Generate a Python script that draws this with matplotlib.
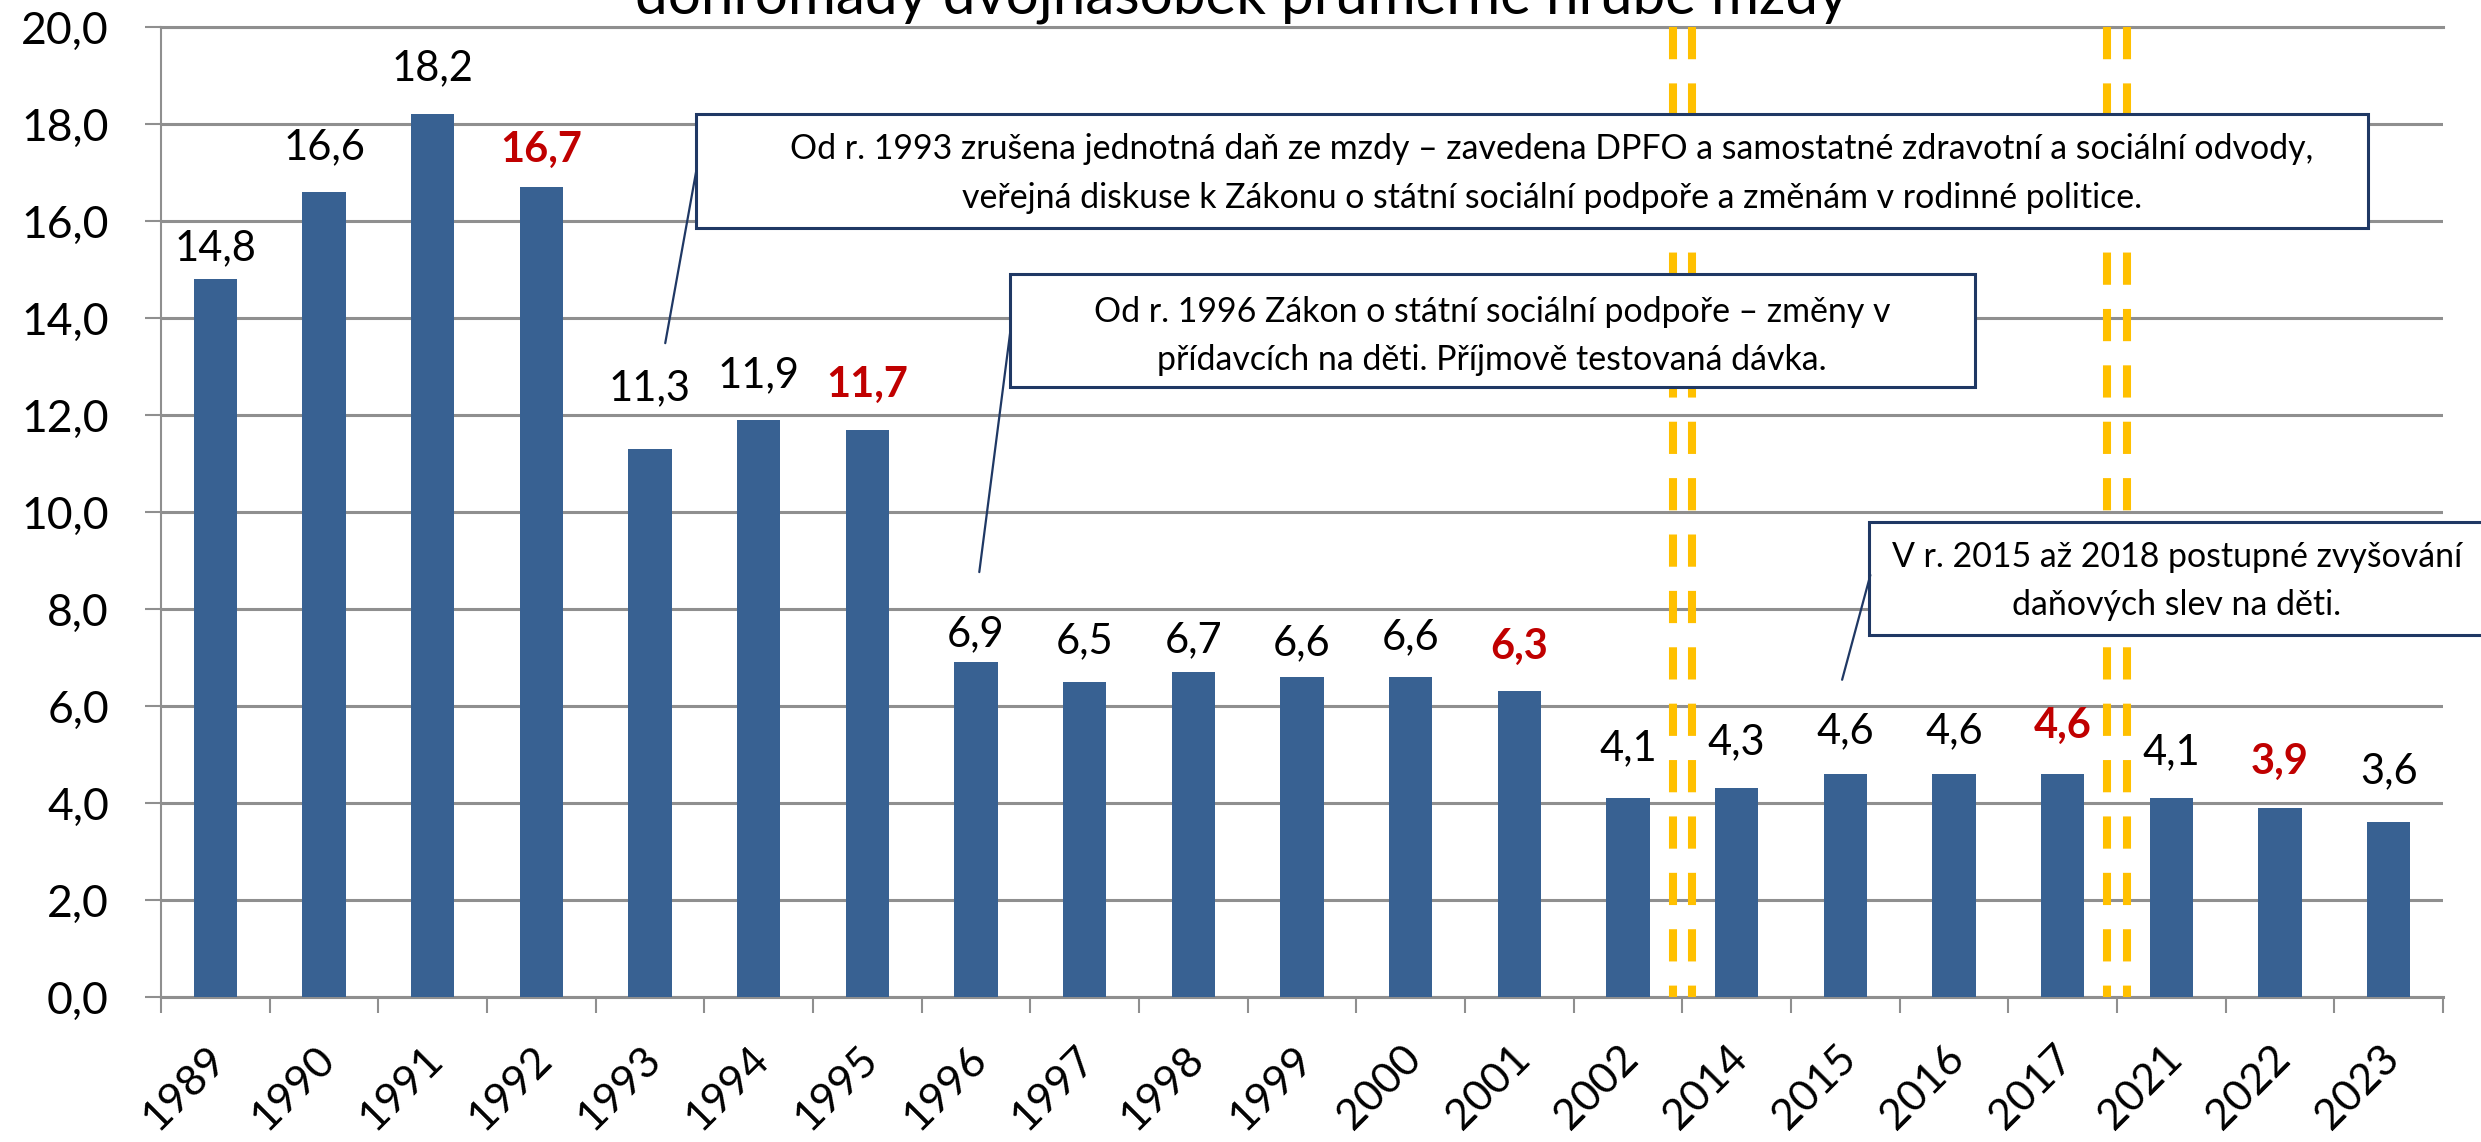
# Tax burden chart - bars with notes and axis breaks

import numpy as np
import matplotlib.pyplot as plt
from matplotlib.patches import Rectangle
from matplotlib.transforms import ScaledTranslation

plt.rcParams['font.family'] = ['Lato', 'DejaVu Sans']

# Data
years = ['1989', '1990', '1991', '1992', '1993', '1994', '1995', '1996', '1997',
         '1998', '1999', '2000', '2001', '2002', '2014', '2015', '2016', '2017',
         '2021', '2022', '2023']
values = [14.8, 16.6, 18.2, 16.7, 11.3, 11.9, 11.7, 6.9, 6.5, 6.7, 6.6, 6.6, 6.3,
          4.1, 4.3, 4.6, 4.6, 4.6, 4.1, 3.9, 3.6]
highlight = ['1992', '1995', '2001', '2017', '2022']
# value labels were moved by hand in the original, offsets above bar top
label_offset = [0.64, 0.93, 0.95, 0.76, 1.25, 0.92, 0.92, 0.58, 0.84, 0.66, 0.70,
                0.82, 0.92, 1.03, 0.96, 0.88, 0.88, 0.99, 0.95, 0.95, 1.06]
y_ticks = np.arange(0, 21, 2)
break_after = ['2002', '2017']

title = 'dohromady dvojnásobek průměrné hrubé mzdy'
note1 = ('Od r. 1993 zrušena jednotná daň ze mzdy – zavedena DPFO a samostatné zdravotní a sociální odvody,\n'
         'veřejná diskuse k Zákonu o státní sociální podpoře a změnám v rodinné politice.')
note2 = ('Od r. 1996 Zákon o státní sociální podpoře – změny v\n'
         'přídavcích na děti. Příjmově testovaná dávka.')
note3 = ('V r. 2015 až 2018 postupné zvyšování\n'
         'daňových slev na děti.')

bar_color = '#386192'
grid_color = '#8f8f8f'
red = '#C00000'
navy = '#1F3864'
yellow = '#FFC000'

fig = plt.figure(figsize=(24.81, 11.42), dpi=100)
ax = fig.add_axes([0.0649, 0.1270, 0.9198, 0.8494])

x = np.arange(len(years))
ax.bar(x, values, width=0.4, color=bar_color, zorder=3)

ax.set_xlim(-0.5, len(years) - 0.5)
ax.set_ylim(0, 20)

# y axis
ax.set_yticks(y_ticks)
ax.set_yticklabels([f'{v:.1f}'.replace('.', ',') for v in y_ticks])
ax.yaxis.grid(True, color=grid_color, lw=2.2, zorder=0)
ax.set_axisbelow(True)
ax.tick_params(axis='y', length=11.5, width=1.5, color=grid_color, pad=26, labelsize=32)

ax.spines['right'].set_visible(False)
ax.spines['top'].set_color(grid_color)
ax.spines['top'].set_linewidth(2.2)
ax.spines['left'].set_color(grid_color)
ax.spines['left'].set_linewidth(1.5)
ax.spines['bottom'].set_color(grid_color)
ax.spines['bottom'].set_linewidth(2.2)

# x axis: ticks between categories, labels at centres
ax.set_xticks(np.arange(-0.5, len(years)))
ax.set_xticklabels([])
ax.tick_params(axis='x', which='major', length=11.5, width=1.5, color=grid_color)
ax.set_xticks(x, minor=True)
ax.set_xticklabels(years, minor=True, rotation=45, ha='right', va='center',
                   rotation_mode='anchor', fontsize=31)
ax.tick_params(axis='x', which='minor', length=0, pad=40)
shift = ScaledTranslation(3 / 72, 0, fig.dpi_scale_trans)
for lab in ax.get_xticklabels(minor=True):
    lab.set_transform(lab.get_transform() + shift)

# value labels
for i, (yr, v) in enumerate(zip(years, values)):
    hl = yr in highlight
    ax.text(i, v + label_offset[i], f'{v:.1f}'.replace('.', ','), ha='center', va='center',
            fontsize=30, color=red if hl else 'black',
            fontweight='bold' if hl else 'normal', zorder=6)

# yellow double dashed lines marking gaps in the years
for yr in break_after:
    b = years.index(yr) + 0.5
    for dx in (-0.088, 0.088):
        ax.plot([b + dx, b + dx], [20, 0], color=yellow, lw=5.8, dashes=(4, 3),
                dash_capstyle='butt', zorder=4, clip_on=False)

# notes with callout lines
notes = [
    (note1, (4.42, 15.86, 19.81, 18.2), (12.3, 16.98), (4.43, 17.09), (4.14, 13.48)),
    (note2, (7.31, 12.58, 16.19, 14.91), (11.75, 13.63), (7.32, 13.8), (7.03, 8.76)),
    (note3, (15.22, 7.46, 20.9, 9.79), (18.05, 8.58), (15.23, 8.70), (14.97, 6.54)),
]
for txt, (x0, y0, x1, y1), (tx, ty), start, end in notes:
    ax.add_patch(Rectangle((x0, y0), x1 - x0, y1 - y0, facecolor='white',
                           edgecolor=navy, lw=2.2, zorder=5, clip_on=False))
    ax.text(tx, ty, txt, ha='center', va='center', fontsize=24.4, linespacing=1.63,
            zorder=6)
    ax.annotate('', xy=end, xytext=start,
                arrowprops=dict(arrowstyle='-', color=navy, lw=1.6, shrinkA=0, shrinkB=0),
                zorder=6)

# only the last line of the title is visible in the original, the rest is cut off
fig.text(0.5006, 0.9886, title, ha='center', va='baseline', fontsize=42)

fig.savefig('out.png', dpi=100)
